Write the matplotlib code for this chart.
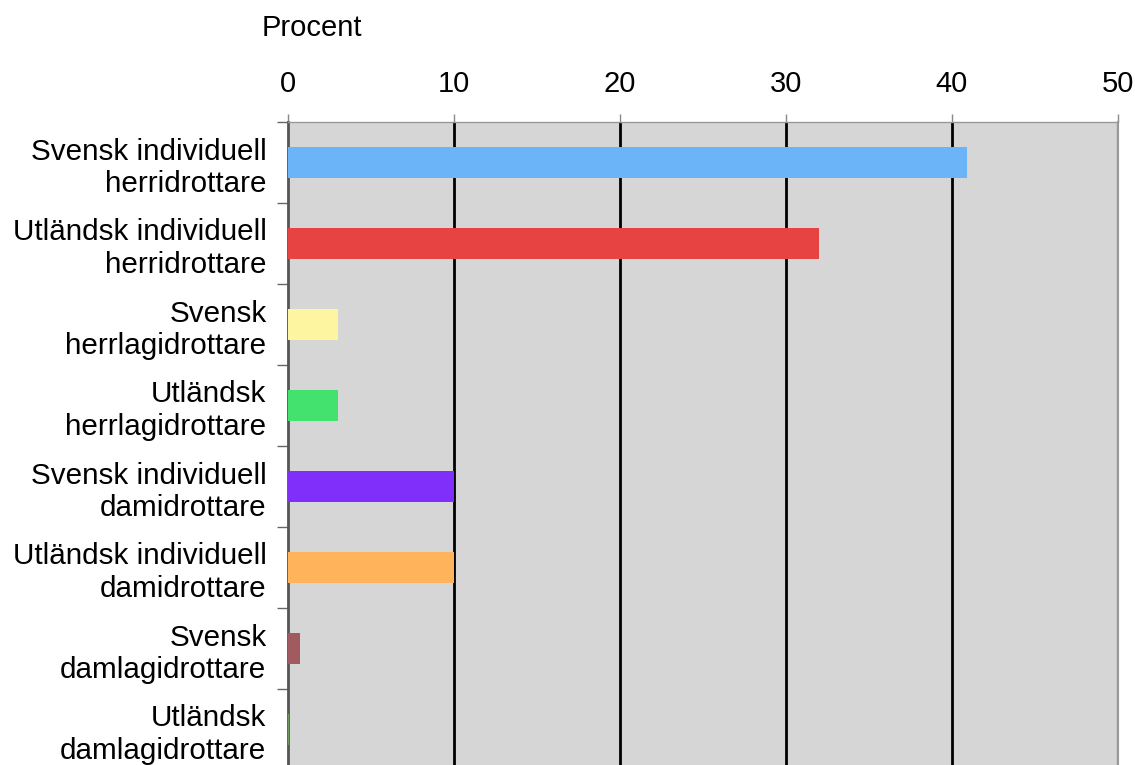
import matplotlib
matplotlib.use("Agg")
import matplotlib.pyplot as plt

categories = [
    "Svensk individuell\nherridrottare",
    "Utländsk individuell\nherridrottare",
    "Svensk\nherrlagidrottare",
    "Utländsk\nherrlagidrottare",
    "Svensk individuell\ndamidrottare",
    "Utländsk individuell\ndamidrottare",
    "Svensk\ndamlagidrottare",
    "Utländsk\ndamlagidrottare",
]
values = [40.9, 32, 3, 3, 10, 10, 0.7, 0.05]
colors = ["#6cb4f8", "#e84343", "#fef5a1", "#43e26e", "#7f2ff9", "#ffb45c", "#a05a60", "#6a9a5a"]
xticks = [0, 10, 20, 30, 40, 50]
xlabel = "Procent"

plt.rcParams['font.family'] = ['Liberation Sans', 'DejaVu Sans']

W, H = 1135, 765
fig = plt.figure(figsize=(W / 100, H / 100), dpi=100)
left, right, top, bottom = 288, 1118, 122, 770
ax = fig.add_axes([left / W, 1 - bottom / H, (right - left) / W, (bottom - top) / H])
ax.set_facecolor("#d6d6d6")

n = len(categories)
ypos = list(range(n))
ax.barh(ypos, values, height=0.39, color=colors, zorder=3)

ax.set_xlim(0, 50)
ax.set_ylim(n - 0.5, -0.5)
ax.set_xticks(xticks)
ax.xaxis.tick_top()
ax.tick_params(axis='x', which='major', length=6, width=1, color="#888888",
               labelsize=21, pad=11, labelcolor="black")
for xv in xticks[1:-1]:
    ax.axvline(xv, color="black", lw=2, zorder=2)
ax.axvline(50, color="black", lw=1.5, zorder=2)

ax.set_yticks(ypos)
ax.set_yticklabels(categories, fontsize=21.3, linespacing=1.22)
ax.set_yticks([i + 0.5 for i in range(-1, n)], minor=True)
ax.tick_params(axis='y', which='major', length=0, pad=15.5)
ax.tick_params(axis='y', which='minor', length=8, width=1, color="#666666")

ax.spines['left'].set_color("#555555")
ax.spines['left'].set_linewidth(2)
ax.spines['top'].set_color("#999999")
ax.spines['top'].set_linewidth(1)
ax.spines['right'].set_color("#999999")
ax.spines['right'].set_linewidth(1.5)
ax.spines['bottom'].set_visible(False)

fig.text(262 / W, 1 - 36 / H, xlabel, fontsize=21, ha="left", va="baseline")

fig.savefig("out.png", dpi=100)
